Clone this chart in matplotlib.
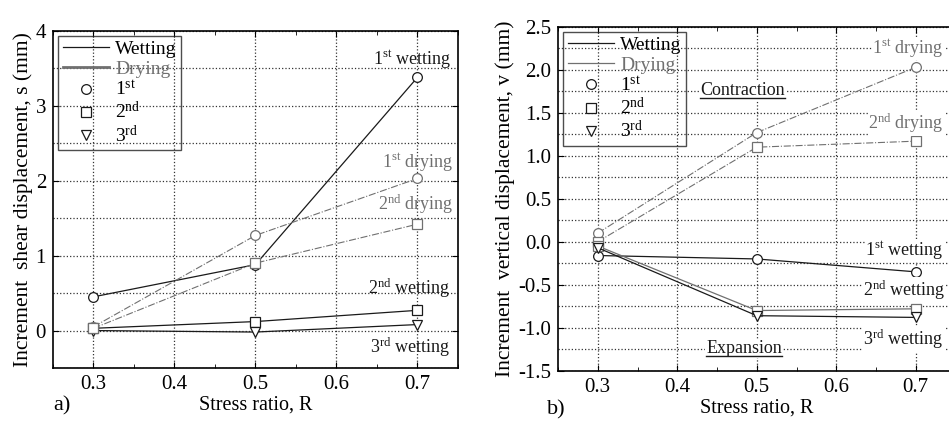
import numpy as np
import matplotlib.pyplot as plt
from matplotlib.ticker import MultipleLocator, FormatStrFormatter

plt.rcParams['font.family'] = ['Liberation Serif', 'DejaVu Serif']
plt.rcParams['mathtext.fontset'] = 'custom'
plt.rcParams['mathtext.rm'] = 'Liberation Serif'

# stress ratio
R = [0.3, 0.5, 0.7]

# a) shear displacement s (mm)
s_wet1 = [0.45, 0.88, 3.38]
s_wet2 = [0.03, 0.12, 0.27]
s_wet3 = [0.0, -0.02, 0.08]
s_dry1 = [0.05, 1.27, 2.03]
s_dry2 = [0.03, 0.90, 1.42]

# b) vertical displacement v (mm)
v_wet1 = [-0.16, -0.20, -0.35]
v_wet2 = [-0.05, -0.80, -0.78]
v_wet3 = [-0.07, -0.86, -0.88]
v_dry1 = [0.10, 1.27, 2.03]
v_dry2 = [0.00, 1.10, 1.17]

wc = '#1a1a1a'
dc = '#707070'
fs = 13

fig = plt.figure(figsize=(9.49, 4.23), dpi=100)
ax1 = fig.add_axes([0.0558, 0.130, 0.4268, 0.797])
ax2 = fig.add_axes([0.588, 0.1236, 0.4189, 0.813])


def sup(n, s):
    return r'$\mathregular{' + n + '^{' + s + '}}$'


def style(ax, ymaj, ymin):
    ax.set_xlim(0.25, 0.75)
    ax.xaxis.set_major_locator(MultipleLocator(0.1))
    ax.xaxis.set_minor_locator(MultipleLocator(0.05))
    ax.yaxis.set_major_locator(MultipleLocator(ymaj))
    ax.yaxis.set_minor_locator(MultipleLocator(ymin))
    ax.grid(True, which='major', axis='x', ls=':', color='#333', lw=0.9)
    ax.grid(True, which='both', axis='y', ls=':', color='#333', lw=0.9)
    ax.tick_params(which='both', direction='in', top=True, right=True, labelsize=15, pad=5)
    ax.tick_params(which='major', length=4)
    ax.tick_params(which='minor', length=3)
    ax.tick_params(axis='y', which='minor', length=0)
    for sp in ax.spines.values():
        sp.set_linewidth(1.2)
    ax.set_xlabel('Stress ratio, R', fontsize=14.5, labelpad=1)
    ax.set_axisbelow(True)


mk = dict(ms=7, mfc='white', mew=0.9)

# panel a
ax1.plot(R, s_wet1, '-', color=wc, lw=0.9, marker='o', mec=wc, **mk)
ax1.plot(R, s_wet2, '-', color=wc, lw=0.9, marker='s', mec=wc, **mk)
ax1.plot(R, s_wet3, '-', color=wc, lw=0.9, marker='v', mec=wc, **mk)
ax1.plot(R, s_dry1, '-.', color=dc, lw=0.8, marker='o', mec=dc, **mk)
ax1.plot(R, s_dry2, '-.', color=dc, lw=0.8, marker='s', mec=dc, **mk)
ax1.set_ylim(-0.5, 4)
style(ax1, 1, 0.5)
ax1.set_ylabel('Increment  shear displacement, s (mm)', fontsize=15.5, labelpad=2)

kw = dict(ha='right', va='center', fontsize=fs)
ax1.text(0.742, 3.63, sup('1', 'st') + ' wetting', color=wc, **kw)
ax1.text(0.744, 2.25, sup('1', 'st') + ' drying', color=dc, **kw)
ax1.text(0.744, 1.69, sup('2', 'nd') + ' drying', color=dc, **kw)
ax1.text(0.741, 0.56, sup('2', 'nd') + ' wetting', color=wc, **kw)
ax1.text(0.741, -0.22, sup('3', 'rd') + ' wetting', color=wc, **kw)

# panel b
ax2.plot(R, v_dry1, '-.', color=dc, lw=0.8, marker='o', mec=dc, **mk)
ax2.plot(R, v_dry2, '-.', color=dc, lw=0.8, marker='s', mec=dc, **mk)
ax2.plot(R, v_wet1, '-', color=wc, lw=0.9, marker='o', mec=wc, **mk)
ax2.plot(R, v_wet2, '-', color=dc, lw=0.9, marker='s', mec=dc, **mk)
ax2.plot(R, v_wet3, '-', color=wc, lw=0.9, marker='v', mec=wc, **mk)
ax2.set_ylim(-1.5, 2.5)
style(ax2, 0.5, 0.25)
ax2.yaxis.set_major_formatter(FormatStrFormatter('%.1f'))
ax2.set_ylabel('Increment  vertical displacement, v (mm)', fontsize=15.5, labelpad=2)

bb = dict(facecolor='white', edgecolor='none', pad=0.5)
ax2.text(0.735, 2.25, sup('1', 'st') + ' drying', color=dc, bbox=bb, **kw)
ax2.text(0.735, 1.38, sup('2', 'nd') + ' drying', color=dc, bbox=bb, **kw)
ax2.text(0.735, -0.10, sup('1', 'st') + ' wetting', color=wc, bbox=bb, **kw)
ax2.text(0.737, -0.56, sup('2', 'nd') + ' wetting', color=wc, bbox=bb, **kw)
ax2.text(0.735, -1.14, sup('3', 'rd') + ' wetting', color=wc, bbox=bb, **kw)
t_con = ax2.text(0.482, 1.76, 'Contraction', ha='center', va='center',
                 fontsize=fs, color=wc, bbox=bb)
t_exp = ax2.text(0.484, -1.24, 'Expansion', ha='center', va='center',
                 fontsize=fs, color=wc, bbox=bb)

# legends
for ax, dlw in [(ax1, 2.0), (ax2, 0.9)]:
    h = [plt.Line2D([], [], color=wc, lw=0.9),
         plt.Line2D([], [], color=dc, lw=dlw),
         plt.Line2D([], [], ls='', marker='o', color=wc, **mk),
         plt.Line2D([], [], ls='', marker='s', color=wc, **mk),
         plt.Line2D([], [], ls='', marker='v', color=wc, **mk)]
    labs = ['Wetting', 'Drying', sup('1', 'st'), sup('2', 'nd'), sup('3', 'rd')]
    leg = ax.legend(h, labs, loc='upper left', fontsize=14, frameon=True,
                    fancybox=False, handlelength=2.4, handletextpad=0.3,
                    labelspacing=0.1, borderpad=0.25, borderaxespad=0.25)
    fr = leg.get_frame()
    fr.set_facecolor('none')
    fr.set_edgecolor('#222')
    fr.set_linewidth(1.0)
    leg.get_texts()[1].set_color(dc)

fig.text(62 / 949, 1 - 406 / 423, 'a)', fontsize=16, ha='center', va='center')
fig.text(556 / 949, 1 - 410 / 423, 'b)', fontsize=16, ha='center', va='center')

# underline Contraction / Expansion
fig.canvas.draw()
inv = ax2.transAxes.inverted()
for t in (t_con, t_exp):
    ext = t.get_window_extent()
    (x0, y0), (x1, _) = inv.transform([[ext.x0, ext.y0 + 1], [ext.x1, ext.y0]])
    ax2.plot([x0, x1], [y0, y0], color=wc, lw=1.0, transform=ax2.transAxes, zorder=5)

fig.savefig('out.png', dpi=100)
